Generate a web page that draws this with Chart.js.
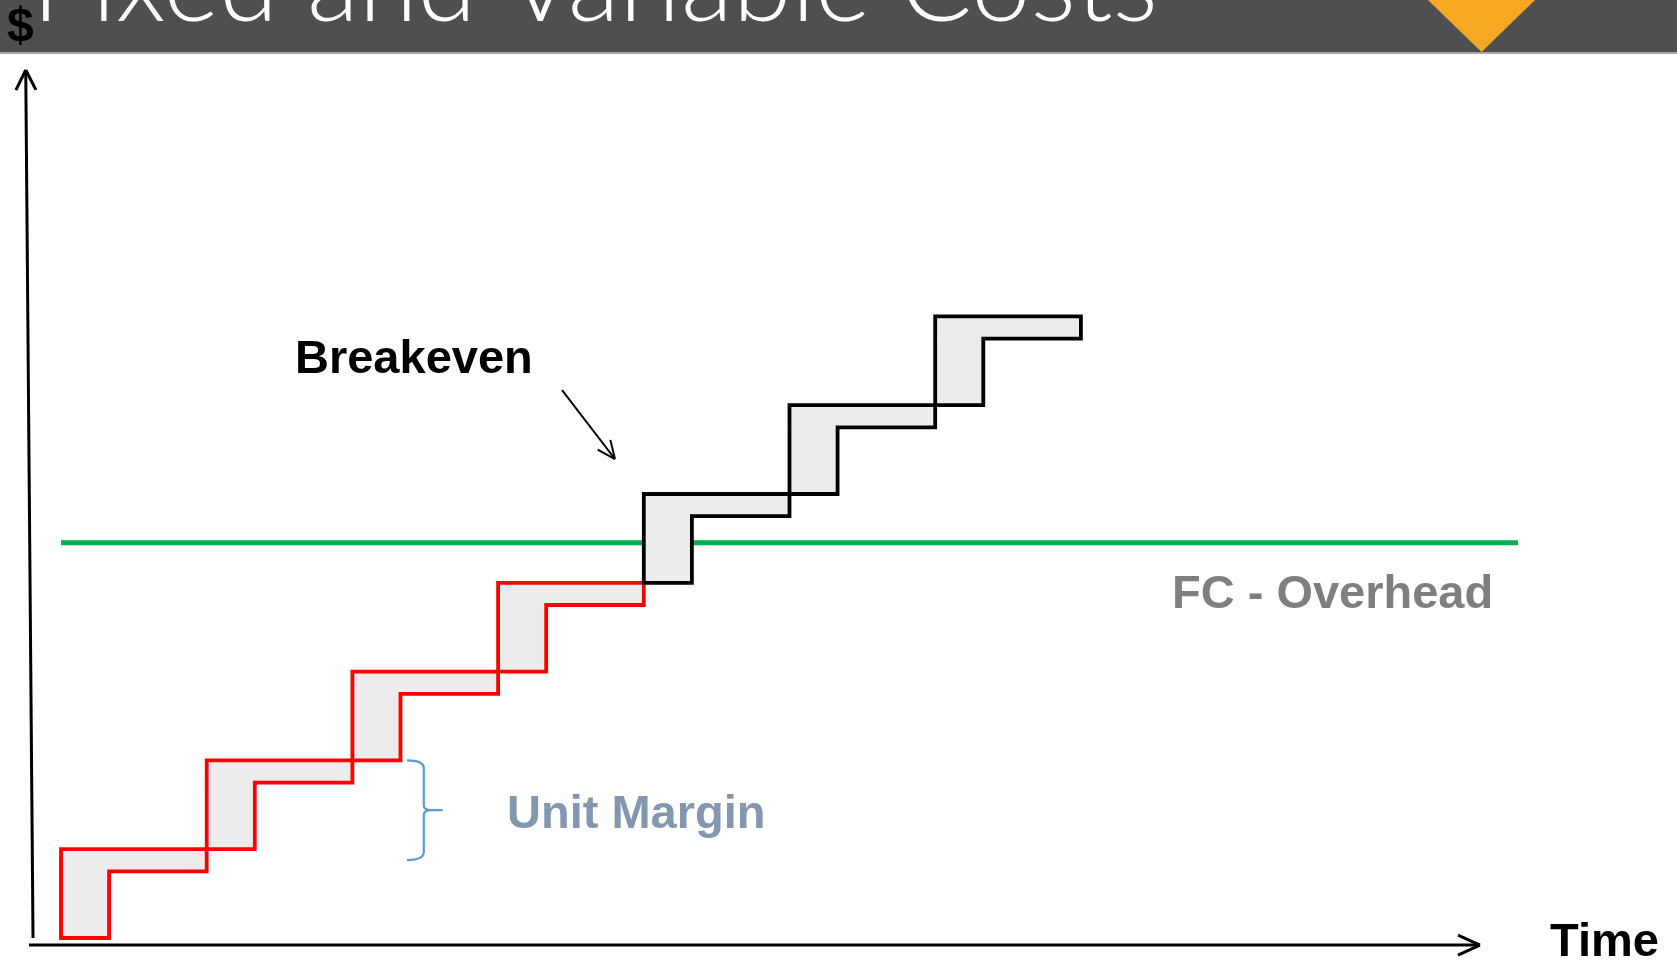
<!DOCTYPE html>
<html>
<head>
<meta charset="utf-8">
<script src="https://cdn.jsdelivr.net/npm/chart.js@4.4.1/dist/chart.umd.min.js"></script>
<style>
  html, body { margin: 0; padding: 0; background: #fff; }
  body { width: 1677px; height: 960px; position: relative; overflow: hidden; }
  #header { position: absolute; left: 0; top: 0; width: 1677px; height: 52px; background: #4f4f51; border-bottom: 2px solid #a9a9a9; }
  #marker { position: absolute; left: 1428px; top: 0; width: 107px; height: 52px; background: #f7a823; clip-path: polygon(0 0, 100% 0, 50% 100%); }
  #chart { position: absolute; left: 0; top: 0; }
</style>
</head>
<body>
<div id="header"><div id="marker"></div></div>
<canvas id="chart" width="1677" height="960"></canvas>
<script>
// Step boundaries on the time axis and the cost level each step reaches
const periods = [0, 1, 2, 3, 4, 5, 6, 7];
const levels = [0, 1, 2, 3, 4, 5, 6, 7];
const unitMargin = 0.25;   // depth of each step's tread
const riserWidth = 0.33;   // width of each step's riser
const lossSteps = 4;       // steps drawn red (before breakeven)

// Fixed cost (overhead) line
const fixedCost = 4.45;
const fixedCostSpan = [0, 10];

// Axis arrows ($ up, Time right)
const yAxisLine = [{x: -0.192, y: 0}, {x: -0.242, y: 9.775}];
const xAxisLine = [{x: -0.22, y: -0.079}, {x: 9.739, y: -0.079}];
const breakevenArrow = [{x: 3.439, y: 6.171}, {x: 3.802, y: 5.394}];

const TITLE = 'Fixed and Variable Costs';

function stepShape(i) {
    const x0 = periods[i], x1 = periods[i + 1];
    const y0 = levels[i], y1 = levels[i + 1];
    return [
        {x: x0, y: y1}, {x: x1, y: y1}, {x: x1, y: y1 - unitMargin},
        {x: x0 + riserWidth, y: y1 - unitMargin}, {x: x0 + riserWidth, y: y0},
        {x: x0, y: y0}, {x: x0, y: y1}
    ];
}

const datasets = [];

datasets.push({
    label: 'FC - Overhead',
    data: fixedCostSpan.map(x => ({x, y: fixedCost})),
    borderColor: '#00b050',
    borderWidth: 5,
    pointRadius: 0,
    fill: false,
    order: 10
});

for (let i = 0; i < periods.length - 1; i++) {
    const loss = i < lossSteps;
    datasets.push({
        label: 'Step ' + (i + 1),
        data: stepShape(i),
        borderColor: loss ? '#ff0000' : '#000000',
        backgroundColor: '#ececec',
        borderWidth: 3.8,
        borderJoinStyle: 'miter',
        borderCapStyle: 'square',
        pointRadius: 0,
        tension: 0,
        fill: 'shape',
        order: loss ? 6 : 5
    });
}

[[yAxisLine, 3, 20, 10], [xAxisLine, 3, 22, 10], [breakevenArrow, 2, 18, 8]].forEach(([pts, w, len, half]) => {
    datasets.push({
        data: pts,
        borderColor: '#000',
        borderWidth: w,
        pointRadius: 0,
        fill: false,
        arrowHead: {len, half},
        order: 1
    });
});

const slidePlugin = {
    id: 'slide',
    afterDatasetsDraw(chart, args, opts) {
        const ctx = chart.ctx;
        const xs = chart.scales.x, ys = chart.scales.y;
        const X = v => xs.getPixelForValue(v);
        const Y = v => ys.getPixelForValue(v);

        // arrow heads on the last point of flagged datasets
        chart.data.datasets.forEach((ds, i) => {
            if (!ds.arrowHead) return;
            const pts = chart.getDatasetMeta(i).data;
            const a = pts[pts.length - 2], b = pts[pts.length - 1];
            const ang = Math.atan2(b.y - a.y, b.x - a.x);
            const {len, half} = ds.arrowHead;
            ctx.save();
            ctx.strokeStyle = ds.borderColor;
            ctx.lineWidth = ds.borderWidth;
            ctx.lineJoin = 'miter';
            ctx.beginPath();
            for (const s of [-1, 1]) {
                const px = b.x - len * Math.cos(ang) + s * half * Math.sin(ang);
                const py = b.y - len * Math.sin(ang) - s * half * Math.cos(ang);
                ctx.moveTo(px, py);
                ctx.lineTo(b.x, b.y);
            }
            ctx.stroke();
            ctx.restore();
        });

        // brace for unit margin
        const br = opts.brace;
        const x0 = X(br.x[0]), xs2 = X(br.x[1]), xt = X(br.x[2]);
        const yt = Y(br.y[0]), ym = Y(br.y[1]), yb = Y(br.y[2]);
        ctx.save();
        ctx.strokeStyle = br.color;
        ctx.lineWidth = 2.2;
        ctx.beginPath();
        ctx.moveTo(x0, yt);
        ctx.quadraticCurveTo(xs2, yt, xs2, yt + 8);
        ctx.lineTo(xs2, ym - 5);
        ctx.quadraticCurveTo(xs2, ym, xs2 + 7, ym);
        ctx.lineTo(xt, ym);
        ctx.moveTo(xs2 + 7, ym);
        ctx.quadraticCurveTo(xs2, ym, xs2, ym + 5);
        ctx.lineTo(xs2, yb - 8);
        ctx.quadraticCurveTo(xs2, yb, x0, yb);
        ctx.stroke();
        ctx.restore();

        // labels
        ctx.save();
        ctx.textBaseline = 'alphabetic';
        ctx.textAlign = 'left';
        opts.labels.forEach(l => {
            ctx.font = 'bold ' + l.size + 'px "Liberation Sans", Arial, sans-serif';
            ctx.fillStyle = l.color;
            ctx.fillText(l.text, X(l.x), Y(l.y));
        });
        ctx.restore();

        // slide title (sits in the header, mostly above the page)
        ctx.save();
        ctx.font = '300 100px Lato, "Open Sans", sans-serif';
        const w = ctx.measureText(TITLE).width;
        const size = 100 * opts.titleWidth / w;
        ctx.font = '300 ' + size + 'px Lato, "Open Sans", sans-serif';
        ctx.fillStyle = '#ffffff';
        ctx.textBaseline = 'alphabetic';
        ctx.fillText(TITLE, 32, 21);
        ctx.restore();
    }
};

new Chart(document.getElementById('chart'), {
    type: 'line',
    data: {datasets},
    options: {
        responsive: false,
        animation: false,
        devicePixelRatio: 1,
        layout: {padding: 0},
        parsing: true,
        scales: {
            x: {type: 'linear', min: -0.4187, max: 11.0913, display: false},
            y: {type: 'linear', min: -0.2477, max: 10.5631, display: false}
        },
        plugins: {
            legend: {display: false},
            tooltip: {enabled: false},
            slide: {
                titleWidth: 1126,
                brace: {x: [2.375, 2.49, 2.62], y: [2.0, 1.441, 0.878], color: '#5b9bd5'},
                labels: [
                    {text: '$', x: -0.371, y: 10.1, size: 48, color: '#000000'},
                    {text: 'Breakeven', x: 1.606, y: 6.363, size: 47, color: '#000000'},
                    {text: 'FC - Overhead', x: 7.625, y: 3.716, size: 47, color: '#7f7f7f'},
                    {text: 'Unit Margin', x: 3.061, y: 1.239, size: 47, color: '#8497b0'},
                    {text: 'Time', x: 10.22, y: -0.203, size: 47, color: '#000000'}
                ]
            }
        }
    },
    plugins: [slidePlugin]
});
</script>
</body>
</html>
